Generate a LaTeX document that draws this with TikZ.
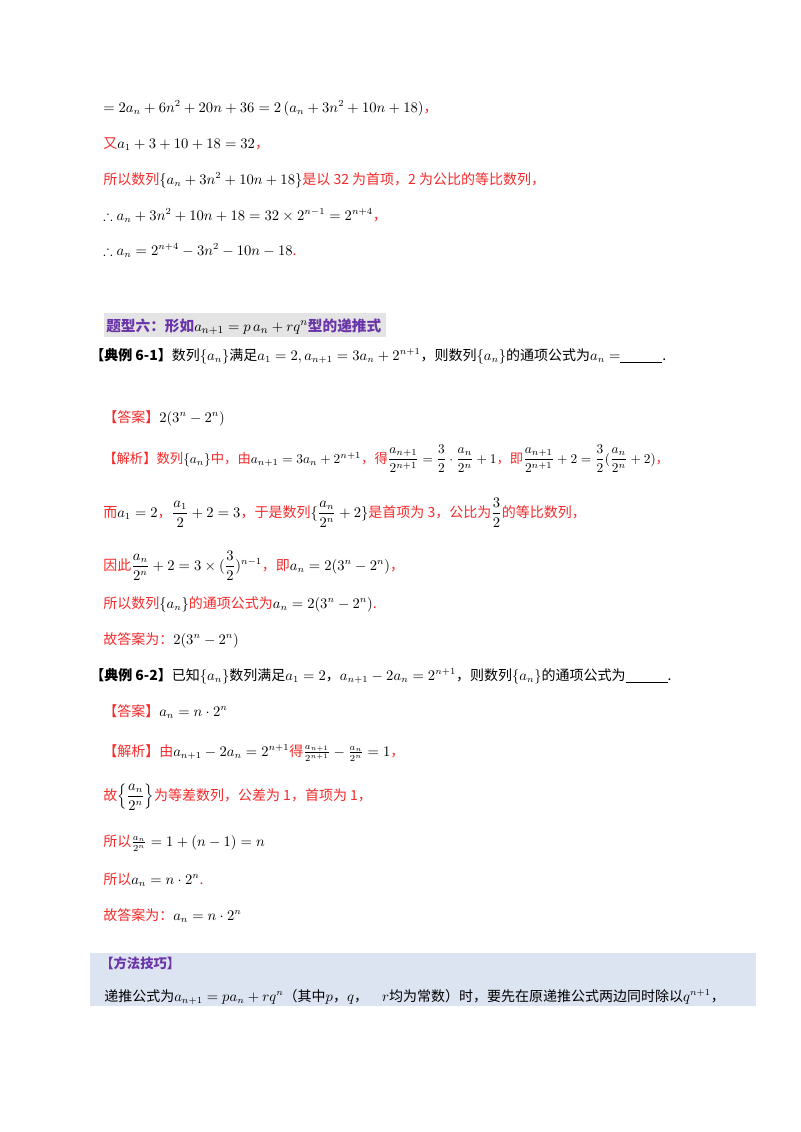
\documentclass[tikz,border=0pt]{standalone}
\usepackage{amsmath,amssymb}
\usepackage{fontspec}
\newfontfamily\cjk{Noto Sans CJK SC}
\definecolor{rd}{HTML}{F52A2A}
\definecolor{pu}{HTML}{6A35A8}
\definecolor{bx}{HTML}{DCE3F1}
\definecolor{hb}{HTML}{E4E4E4}
\newcommand{\R}[1]{\textcolor{rd}{#1}}
\begin{document}
\begin{tikzpicture}[x=0.75pt,y=-0.75pt,
  ln/.style={anchor=base west,inner sep=0pt,font=\cjk\fontsize{10.5}{12}\selectfont}]
\useasboundingbox (0,0) rectangle (800,1132);
\fill[white] (0,0) rectangle (800,1132);
\node[ln] (l1) at (103,112) {$=2a_n+6n^2+20n+36=2\left(a_n+3n^2+10n+18\right)$\R{，}};
\node[ln] (l2) at (103,148) {\R{又}$a_1+3+10+18=32$\R{，}};
\node[ln] (l3) at (103,184) {\R{所以数列}$\left\{a_n+3n^2+10n+18\right\}$\R{是以 32 为首项，2 为公比的等比数列，}};
\node[ln] (l4) at (103,220) {$\therefore a_n+3n^2+10n+18=32\times 2^{n-1}=2^{n+4}$\R{，}};
\node[ln] (l5) at (103,255) {$\therefore a_n=2^{n+4}-3n^2-10n-18$\R{.}};
\fill[hb] (104,313) rectangle (386,337);
\node[ln,font=\cjk\bfseries\fontsize{11}{12}\selectfont,text=pu] (h) at (106,331) {题型六：形如\textcolor{black}{$a_{n+1}=p\,a_n+rq^n$}型的递推式};
\node[ln] (e1) at (90,360) {\textbf{【典例 6-1】}数列$\{a_n\}$满足$a_1=2,a_{n+1}=3a_n+2^{n+1}$，则数列$\{a_n\}$的通项公式为$a_n=$\underline{\hspace{3em}}.};
\node[ln] (a1) at (103,422) {\R{【答案】}$2(3^n-2^n)$};
\node[ln,font=\cjk\fontsize{10}{12}\selectfont] (j1) at (103,463) {\R{【解析】数列}$\{a_n\}$\R{中，由}$a_{n+1}=3a_n+2^{n+1}$\R{，得}$\dfrac{a_{n+1}}{2^{n+1}}=\dfrac{3}{2}\cdot\dfrac{a_n}{2^n}+1$\R{，即}$\dfrac{a_{n+1}}{2^{n+1}}+2=\dfrac{3}{2}(\dfrac{a_n}{2^n}+2)$\R{，}};
\node[ln] (k1) at (103,517) {\R{而}$a_1=2$\R{，}$\dfrac{a_1}{2}+2=3$\R{，于是数列}$\{\dfrac{a_n}{2^n}+2\}$\R{是首项为 3，公比为}$\dfrac{3}{2}$\R{的等比数列，}};
\node[ln] (m1) at (103,570) {\R{因此}$\dfrac{a_n}{2^n}+2=3\times(\dfrac{3}{2})^{n-1}$\R{，即}$a_n=2(3^n-2^n)$\R{，}};
\node[ln] (n1) at (103,608) {\R{所以数列}$\{a_n\}$\R{的通项公式为}$a_n=2(3^n-2^n)$\R{.}};
\node[ln] (g1) at (103,644) {\R{故答案为：}$2(3^n-2^n)$};
\node[ln] (e2) at (90,680) {\textbf{【典例 6-2】}已知$\{a_n\}$数列满足$a_1=2$，$a_{n+1}-2a_n=2^{n+1}$，则数列$\{a_n\}$的通项公式为\underline{\hspace{3em}}.};
\node[ln] (a2) at (103,716) {\R{【答案】}$a_n=n\cdot 2^n$};
\node[ln] (j2) at (103,756) {\R{【解析】由}$a_{n+1}-2a_n=2^{n+1}$\R{得}$\frac{a_{n+1}}{2^{n+1}}-\frac{a_n}{2^n}=1$\R{，}};
\node[ln] (k2) at (103,800) {\R{故}$\left\{\dfrac{a_n}{2^n}\right\}$\R{为等差数列，公差为 1，首项为 1，}};
\node[ln] (m2) at (103,846) {\R{所以}$\frac{a_n}{2^n}=1+(n-1)=n$};
\node[ln] (n2) at (103,884) {\R{所以}$a_n=n\cdot 2^n$\R{.}};
\node[ln] (g2) at (103,920) {\R{故答案为：}$a_n=n\cdot 2^n$};
\fill[bx] (90,953) rectangle (756,1006);
\node[ln,font=\cjk\bfseries\fontsize{10}{12}\selectfont,text=pu] (ff) at (100,968) {【方法技巧】};
\node[ln] (fx) at (104,1001) {递推公式为$a_{n+1}=pa_n+rq^n$（其中$p$，$q$，\quad$r$均为常数）时，要先在原递推公式两边同时除以$q^{n+1}$，};
\end{tikzpicture}
\end{document}
